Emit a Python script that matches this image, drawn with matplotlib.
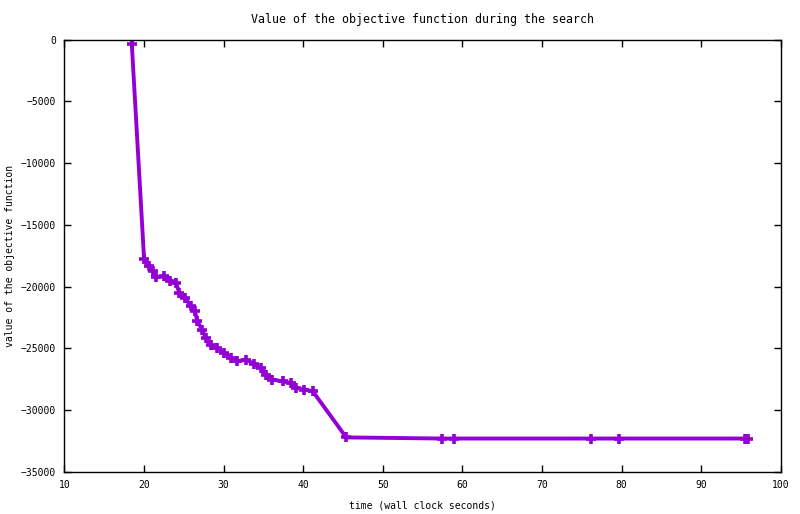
import matplotlib
matplotlib.use('Agg')
import matplotlib.pyplot as plt

# search progress: wall clock time vs objective value
times = [18.46, 20.0, 20.6, 21.1, 21.45, 22.5, 23.3, 24.0, 24.45, 25.2,
         25.85, 26.4, 26.7, 27.3, 27.75, 28.4, 29.2, 30.05, 30.9, 31.7,
         32.8, 33.8, 34.65, 35.3, 36.1, 37.4, 38.45, 39.1, 40.15, 41.2,
         45.4, 57.4, 59.0, 76.2, 79.7, 95.5, 95.9]
values = [-390, -17740, -18360, -18770, -19220, -19170, -19500, -19710, -20510, -20920,
          -21600, -22000, -22810, -23480, -24150, -24690, -24960, -25360, -25770, -26040,
          -25910, -26230, -26580, -27120, -27520, -27660, -27790, -28190, -28330, -28470,
          -32200, -32290, -32290, -32290, -32290, -32290, -32290]

xticks = [10, 20, 30, 40, 50, 60, 70, 80, 90, 100]
yticks = [0, -5000, -10000, -15000, -20000, -25000, -30000, -35000]

plt.rcParams['font.family'] = 'DejaVu Sans Mono'
plt.rcParams['font.size'] = 7

fig = plt.figure(figsize=(8.0, 5.14), dpi=100)
ax = fig.add_axes([0.0806, 0.0817, 0.976 - 0.0806, 0.923 - 0.0817])

ax.plot(times, values, color='#9400D3', lw=2.8, marker='+', markersize=6.5,
        markeredgewidth=2.6, solid_joinstyle='miter')

ax.set_xlim(10, 100)
ax.set_ylim(-35000, 0)
ax.set_xticks(xticks)
ax.set_yticks(yticks)
ax.tick_params(direction='in', length=5, width=1, top=True, right=True, pad=6)
for s in ax.spines.values():
    s.set_linewidth(1)

ax.set_xlabel('time (wall clock seconds)', labelpad=7)
ax.set_ylabel('value of the objective function', labelpad=4)
ax.set_title('Value of the objective function during the search', pad=12)

fig.savefig('out.png', dpi=100)
